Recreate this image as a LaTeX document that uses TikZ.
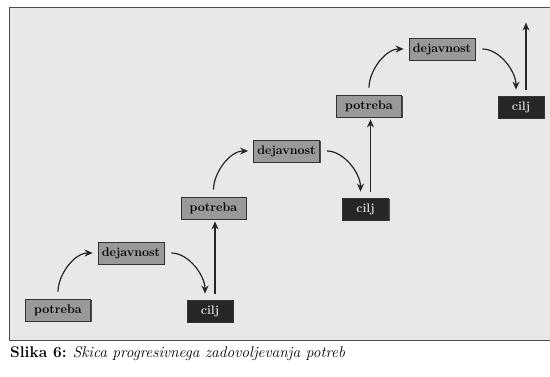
\documentclass[tikz,border=0pt]{standalone}
\usepackage{fontspec}
\usepackage{tikz}
\usetikzlibrary{arrows.meta,shadows,calc}

\begin{document}
\begin{tikzpicture}[x=1pt,y=1pt,
    siva/.style={draw=black!80,fill=black!40,line width=0.8pt,minimum height=22pt,inner sep=2pt,
        font=\fontsize{12.5}{14}\selectfont\bfseries,
        drop shadow={shadow xshift=1.2pt,shadow yshift=-1.2pt,fill=black!70,opacity=1}},
    temna/.style={siva,fill=black!85,text=black!15},
    puscica/.style={-{Stealth[length=8pt,width=7pt]},line width=1.2pt,black!85}]
    \useasboundingbox (0,0) rectangle (550,376);
    % === OKVIR ===
    \fill[black!9] (9,36) rectangle (550,369);
    \draw[black!70,line width=0.8pt] (550,369) -- (9,369) -- (9,36) -- (550,36);
    % === STOPNJE ===
    \foreach \i in {1,2,3} {
        \begin{scope}[shift={({58+155.5*(\i-1)},{66+102*(\i-1)})}]
            \node[siva,minimum width=65pt] (p\i) at (0,0) {potreba};
            \node[siva,minimum width=66pt] (d\i) at (73,57) {dejavnost};
            \node[temna,minimum width=46pt] (c\i) at (152,-1) {cilj};
        \end{scope}
        \coordinate (k\i) at ([xshift=5pt]c\i.north);
        \draw[puscica,shorten <=7pt,shorten >=5pt] (p\i.north) to[out=90,in=180] (d\i.west);
        \draw[puscica,shorten <=7pt,shorten >=6pt] (d\i.east) to[out=0,in=90] ([xshift=-5pt]c\i.north);
    }
    % Navpične puščice
    \foreach \i/\j in {1/2,2/3} {
        \draw[puscica,shorten <=6pt,shorten >=2pt] (k\i) -- (k\i |- p\j.south);
    }
    \coordinate (vrh) at ($(k3)+(0,73)$);
    \draw[puscica,shorten <=6pt] (k3) -- (vrh);
    % Napis
    \node[anchor=base west,inner sep=0,font=\fontsize{15.5}{18}\selectfont] (napis) at (10,19)
        {\textbf{Slika 6:} \textit{Skica progresivnega zadovoljevanja potreb}};
\end{tikzpicture}
\end{document}
